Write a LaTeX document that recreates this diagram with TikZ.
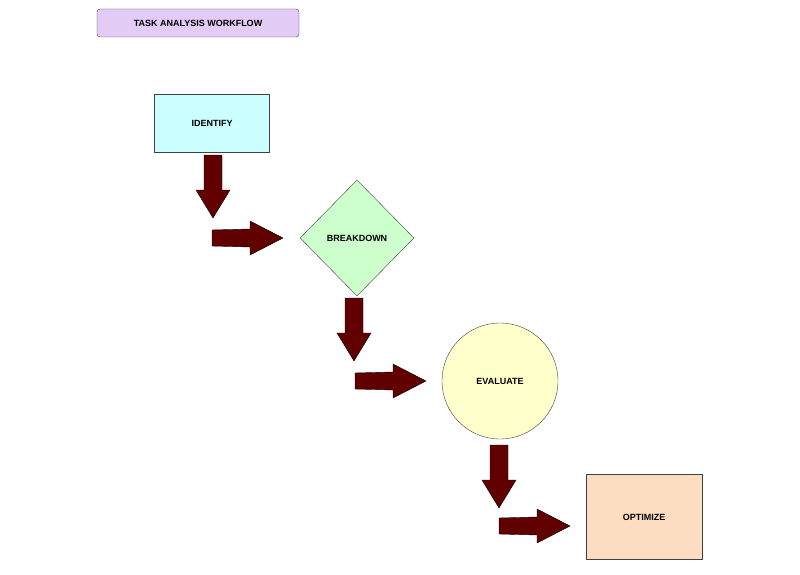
\documentclass[tikz,border=0pt]{standalone}
\usepackage{fontspec}
\setmainfont{Liberation Sans}
\usetikzlibrary{shapes.geometric}

% Block arrow colours and shapes
\definecolor{arrowred}{HTML}{600000}
\definecolor{titlefill}{HTML}{E2CCF6}
\definecolor{identfill}{HTML}{CCFFFF}
\definecolor{breakfill}{HTML}{CCFFCC}
\definecolor{evalfill}{HTML}{FFFFCC}
\definecolor{optfill}{HTML}{FDDDC2}

\tikzset{
  stage/.style={draw=black!75,thin,font=\bfseries\small,text=black},
  blockarrow/.style={draw=black,fill=arrowred,line join=miter},
}
% down arrow from (#1,#2), length 63
\newcommand{\darr}[2]{\draw[blockarrow] (#1-9,#2) -- (#1+9,#2) -- (#1+9,#2+35) -- (#1+17,#2+35) -- (#1,#2+63) -- (#1-17,#2+35) -- (#1-9,#2+35) -- cycle;}
% right arrow from (#1,#2), length 71
\newcommand{\rarr}[2]{\draw[blockarrow] (#1,#2-8) -- (#1+38,#2-9) -- (#1+38,#2-17) -- (#1+71,#2) -- (#1+38,#2+17) -- (#1+38,#2+9) -- (#1,#2+8) -- cycle;}

\begin{document}
\begin{tikzpicture}[x=1pt,y=-1pt]
  \useasboundingbox (0,0) rectangle (800,575);

  % Title
  \node[stage,fill=titlefill,rounded corners=3pt,minimum width=202pt,minimum height=28pt] (title) at (198,23) {TASK ANALYSIS WORKFLOW};

  % Steps
  \node[stage,fill=identfill,minimum width=115pt,minimum height=58pt] (identify) at (212,123) {IDENTIFY};
  \node[stage,fill=breakfill,diamond,minimum width=114pt,minimum height=116pt,inner sep=0pt] (breakdown) at (357,238) {BREAKDOWN};
  \node[stage,fill=evalfill,circle,minimum size=116pt] (evaluate) at (500,381) {EVALUATE};
  \node[stage,fill=optfill,minimum width=116pt,minimum height=85pt] (optimize) at (644,517) {OPTIMIZE};

  % Arrows
  \darr{213}{155}
  \rarr{212}{238}
  \darr{354}{298}
  \rarr{355}{381}
  \darr{499}{445}
  \rarr{499}{526}
\end{tikzpicture}
\end{document}
